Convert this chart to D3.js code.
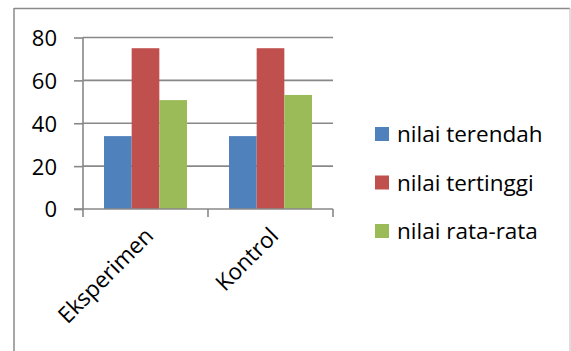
<!DOCTYPE html>
<html>
<head>
<meta charset="utf-8">
<script src="https://cdn.jsdelivr.net/npm/d3@7"></script>
<style>
  html, body { margin: 0; padding: 0; background: #fff; }
  svg { display: block; }
</style>
</head>
<body>
<script>
const categories = ['Eksperimen', 'Kontrol'];
const seriesNames = ['nilai terendah', 'nilai tertinggi', 'nilai rata-rata'];
const terendah = [34, 34];
const tertinggi = [75, 75];
const rataRata = [50.8, 53.2];
const yTicks = [0, 20, 40, 60, 80];

const seriesValues = [terendah, tertinggi, rataRata];
const colors = ['#4F81BD', '#C0504D', '#9BBB59'];

const W = 571, H = 351;
const font = '"Open Sans", sans-serif';

const svg = d3.select('body')
    .append('svg')
    .attr('width', W)
    .attr('height', H);

svg.append('rect')
    .attr('width', W)
    .attr('height', H)
    .attr('fill', 'white');

// chart frame (bottom runs off the page)
svg.append('line').attr('x1', 14).attr('x2', 570).attr('y1', 8.5).attr('y2', 8.5)
    .attr('stroke', '#8a8a8a').attr('stroke-width', 1.5);
svg.append('line').attr('x1', 14).attr('x2', 14).attr('y1', 8).attr('y2', H)
    .attr('stroke', '#8a8a8a').attr('stroke-width', 1.5);
svg.append('line').attr('x1', 570).attr('x2', 570).attr('y1', 8).attr('y2', H)
    .attr('stroke', '#c8c8c8').attr('stroke-width', 1.2);

const plot = { left: 83, right: 333, top: 37.5, bottom: 209 };

const x0 = d3.scaleBand()
    .domain(categories)
    .range([plot.left, plot.right]);

const x1 = d3.scaleBand()
    .domain(seriesNames)
    .range([21, x0.bandwidth() - 21]);

const y = d3.scaleLinear()
    .domain([0, 80])
    .range([plot.bottom, plot.top]);

// grid lines
svg.append('g')
    .selectAll('line')
    .data(yTicks.filter(d => d > 0))
    .join('line')
    .attr('x1', plot.left)
    .attr('x2', plot.right)
    .attr('y1', d => y(d))
    .attr('y2', d => y(d))
    .attr('stroke', '#888')
    .attr('stroke-width', 1.6);

// bars
const groups = svg.append('g')
    .selectAll('g')
    .data(categories)
    .join('g')
    .attr('transform', d => `translate(${x0(d)},0)`);

groups.selectAll('rect')
    .data((c, ci) => seriesNames.map((s, si) => ({ s, si, v: seriesValues[si][ci] })))
    .join('rect')
    .attr('x', d => x1(d.s))
    .attr('width', x1.bandwidth())
    .attr('y', d => y(d.v))
    .attr('height', d => y(0) - y(d.v))
    .attr('fill', d => colors[d.si]);

// y axis
const yAxis = svg.append('g')
    .attr('transform', `translate(${plot.left},0)`)
    .call(d3.axisLeft(y).tickValues(yTicks).tickSize(9).tickPadding(17));
yAxis.selectAll('line, path').attr('stroke', '#888').attr('stroke-width', 1.6);
yAxis.select('.domain').attr('d', `M0,${plot.bottom}V${plot.top}`);
yAxis.selectAll('text')
    .style('font-family', font)
    .style('font-size', '22px')
    .attr('fill', '#000')
    .attr('dy', '0.36em');

// x axis
const xAxis = svg.append('g')
    .attr('transform', `translate(0,${plot.bottom})`);
xAxis.append('path')
    .attr('d', `M${plot.left - 9},0H${plot.right}`)
    .attr('stroke', '#888')
    .attr('stroke-width', 1.6);
xAxis.selectAll('line.tick')
    .data([...categories.map(c => x0(c)), plot.right])
    .join('line')
    .attr('class', 'tick')
    .attr('x1', d => d)
    .attr('x2', d => d)
    .attr('y1', 0)
    .attr('y2', 8)
    .attr('stroke', '#888')
    .attr('stroke-width', 1.6);
xAxis.selectAll('text')
    .data(categories)
    .join('text')
    .attr('transform', d => `translate(${x0(d) + x0.bandwidth() / 2 - 2},${17}) rotate(-45)`)
    .attr('text-anchor', 'end')
    .attr('dy', '0.71em')
    .style('font-family', font)
    .style('font-size', '22.5px')
    .attr('fill', '#000')
    .text(d => d);

// legend
const legend = svg.append('g')
    .selectAll('g')
    .data(seriesNames)
    .join('g')
    .attr('transform', (d, i) => `translate(375,${134 + i * 48.5})`);

legend.append('rect')
    .attr('x', 0)
    .attr('y', -7)
    .attr('width', 14)
    .attr('height', 14)
    .attr('fill', (d, i) => colors[i]);

legend.append('text')
    .attr('x', 22)
    .attr('dy', '0.36em')
    .style('font-family', font)
    .style('font-size', '22.5px')
    .attr('fill', '#000')
    .text(d => d);
</script>
</body>
</html>
